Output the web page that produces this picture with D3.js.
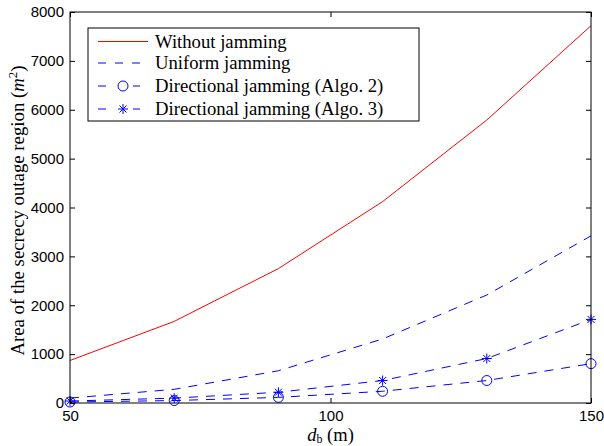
<!DOCTYPE html>
<html>
<head>
<meta charset="utf-8">
<script src="https://cdn.jsdelivr.net/npm/d3@7"></script>
<style>
  html, body { margin: 0; padding: 0; background: #fff; }
  svg { display: block; }
</style>
</head>
<body>
<svg id="chart" width="604" height="446"></svg>
<script>
// Distance d_b (m)
const distances = [50, 70, 90, 110, 130, 150];
// Area of the secrecy outage region (m^2)
const withoutJamming = [870, 1670, 2750, 4120, 5790, 7720];
const uniformJamming = [100, 280, 660, 1310, 2210, 3420];
const directionalAlgo2 = [20, 50, 115, 240, 460, 805];
const directionalAlgo3 = [40, 100, 220, 460, 910, 1710];

const xTicks = [50, 100, 150];
const yTicks = [0, 1000, 2000, 3000, 4000, 5000, 6000, 7000, 8000];

const seriesNames = [
  "Without jamming",
  "Uniform jamming",
  "Directional jamming (Algo. 2)",
  "Directional jamming (Algo. 3)"
];

const margin = { left: 70, top: 12, right: 13, bottom: 43 };
const W = 604, H = 446;
const svg = d3.select("#chart");

const x = d3.scaleLinear().domain([50, 150]).range([margin.left, W - margin.right]);
const y = d3.scaleLinear().domain([0, 8000]).range([H - margin.bottom, margin.top]);

const RED = "#ff0000";
const BLUE = "#0000ff";
const dash = "9,8";

const series = [
  { name: seriesNames[0], values: withoutJamming, color: RED, dash: null, marker: null },
  { name: seriesNames[1], values: uniformJamming, color: BLUE, dash: dash, marker: null },
  { name: seriesNames[2], values: directionalAlgo2, color: BLUE, dash: dash, marker: "circle" },
  { name: seriesNames[3], values: directionalAlgo3, color: BLUE, dash: dash, marker: "star" }
];

const tickFont = "'Liberation Sans', Arial, sans-serif";
const serif = "'Liberation Serif', 'Times New Roman', serif";

// plot background
svg.append("rect")
  .attr("x", x(50)).attr("y", y(8000))
  .attr("width", x(150) - x(50)).attr("height", y(0) - y(8000))
  .attr("fill", "#fff");

svg.append("clipPath").attr("id", "plotclip")
  .append("rect")
  .attr("x", x(50) - 8).attr("y", y(8000))
  .attr("width", x(150) - x(50) + 16).attr("height", y(0) - y(8000) + 8);

const line = d3.line().x((d, i) => x(distances[i])).y(d => y(d));

const plot = svg.append("g").attr("clip-path", "url(#plotclip)");

function drawMarker(g, type, cx, cy, color) {
  if (type === "circle") {
    g.append("circle").attr("cx", cx).attr("cy", cy).attr("r", 5)
      .attr("fill", "none").attr("stroke", color).attr("stroke-width", 1);
  } else if (type === "star") {
    const r = 5;
    const p = [[0, -r, 0, r], [-r, 0, r, 0],
               [-r * 0.7, -r * 0.7, r * 0.7, r * 0.7], [-r * 0.7, r * 0.7, r * 0.7, -r * 0.7]];
    p.forEach(s => g.append("line")
      .attr("x1", cx + s[0]).attr("y1", cy + s[1])
      .attr("x2", cx + s[2]).attr("y2", cy + s[3])
      .attr("stroke", color).attr("stroke-width", 1));
  }
}

series.forEach(s => {
  plot.append("path")
    .attr("d", line(s.values))
    .attr("fill", "none")
    .attr("stroke", s.color)
    .attr("stroke-width", 1)
    .attr("stroke-dasharray", s.dash);
  if (s.marker) {
    s.values.forEach((v, i) => drawMarker(plot, s.marker, x(distances[i]), y(v), s.color));
  }
});

// axes box with inward ticks on all four sides
const tickLen = 5;
const axes = svg.append("g").attr("stroke", "#000").attr("stroke-width", 1);
axes.append("rect")
  .attr("x", x(50)).attr("y", y(8000))
  .attr("width", x(150) - x(50)).attr("height", y(0) - y(8000))
  .attr("fill", "none");

const bottomAxis = d3.axisBottom(x).tickValues(xTicks).tickSize(-tickLen).tickPadding(7).tickFormat(d3.format("d"));
const topAxis = d3.axisTop(x).tickValues(xTicks).tickSize(-tickLen).tickFormat("");
const leftAxis = d3.axisLeft(y).tickValues(yTicks).tickSize(-tickLen).tickPadding(6).tickFormat(d3.format("d"));
const rightAxis = d3.axisRight(y).tickValues(yTicks).tickSize(-tickLen).tickFormat("");

function styleAxis(g) {
  g.select(".domain").remove();
  g.selectAll(".tick line").attr("stroke", "#000");
  g.selectAll(".tick text").attr("fill", "#000")
    .style("font-family", tickFont).style("font-size", "15px");
}

svg.append("g").attr("transform", `translate(0,${y(0)})`).call(bottomAxis).call(styleAxis);
svg.append("g").attr("transform", `translate(0,${y(8000)})`).call(topAxis).call(styleAxis);
svg.append("g").attr("transform", `translate(${x(50)},0)`).call(leftAxis).call(styleAxis);
svg.append("g").attr("transform", `translate(${x(150)},0)`).call(rightAxis).call(styleAxis);

// axis labels
const xl = svg.append("text")
  .attr("x", (x(50) + x(150)) / 2).attr("y", 441)
  .attr("text-anchor", "middle")
  .style("font-family", serif).style("font-size", "18.5px");
xl.append("tspan").style("font-style", "italic").text("d");
xl.append("tspan").attr("dy", 2).style("font-size", "12px").text("b");
xl.append("tspan").attr("dy", -2).text("\u00a0(m)");

const yl = svg.append("text")
  .attr("transform", `translate(24,${(y(0) + y(8000)) / 2 + 3}) rotate(-90)`)
  .attr("text-anchor", "middle")
  .style("font-family", serif).style("font-size", "18.8px");
yl.append("tspan").text("Area of the secrecy outage region (");
yl.append("tspan").style("font-style", "italic").text("m");
yl.append("tspan").attr("dy", -7).style("font-size", "13px").text("2");
yl.append("tspan").attr("dy", 7).text(")");

// legend
const lg = svg.append("g");
const lgX = 88, lgY = 28, lgW = 331, lgH = 93;
lg.append("rect").attr("x", lgX).attr("y", lgY).attr("width", lgW).attr("height", lgH)
  .attr("fill", "#fff").attr("stroke", "#000").attr("stroke-width", 1);
const rowY = [41.5, 63, 86, 109];
series.forEach((s, i) => {
  const cy = rowY[i];
  lg.append("line")
    .attr("x1", 98).attr("x2", 148).attr("y1", cy).attr("y2", cy)
    .attr("stroke", s.color).attr("stroke-width", 1)
    .attr("stroke-dasharray", s.dash ? "8,9" : null);
  if (s.marker) {
    lg.append("rect").attr("x", 113).attr("y", cy - 6).attr("width", 20).attr("height", 12).attr("fill", "#fff");
    drawMarker(lg, s.marker, 123, cy, s.color);
  }
  lg.append("text")
    .attr("x", 155).attr("y", cy + 6)
    .style("font-family", serif).style("font-size", "18.7px")
    .text(s.name);
});
</script>
</body>
</html>
